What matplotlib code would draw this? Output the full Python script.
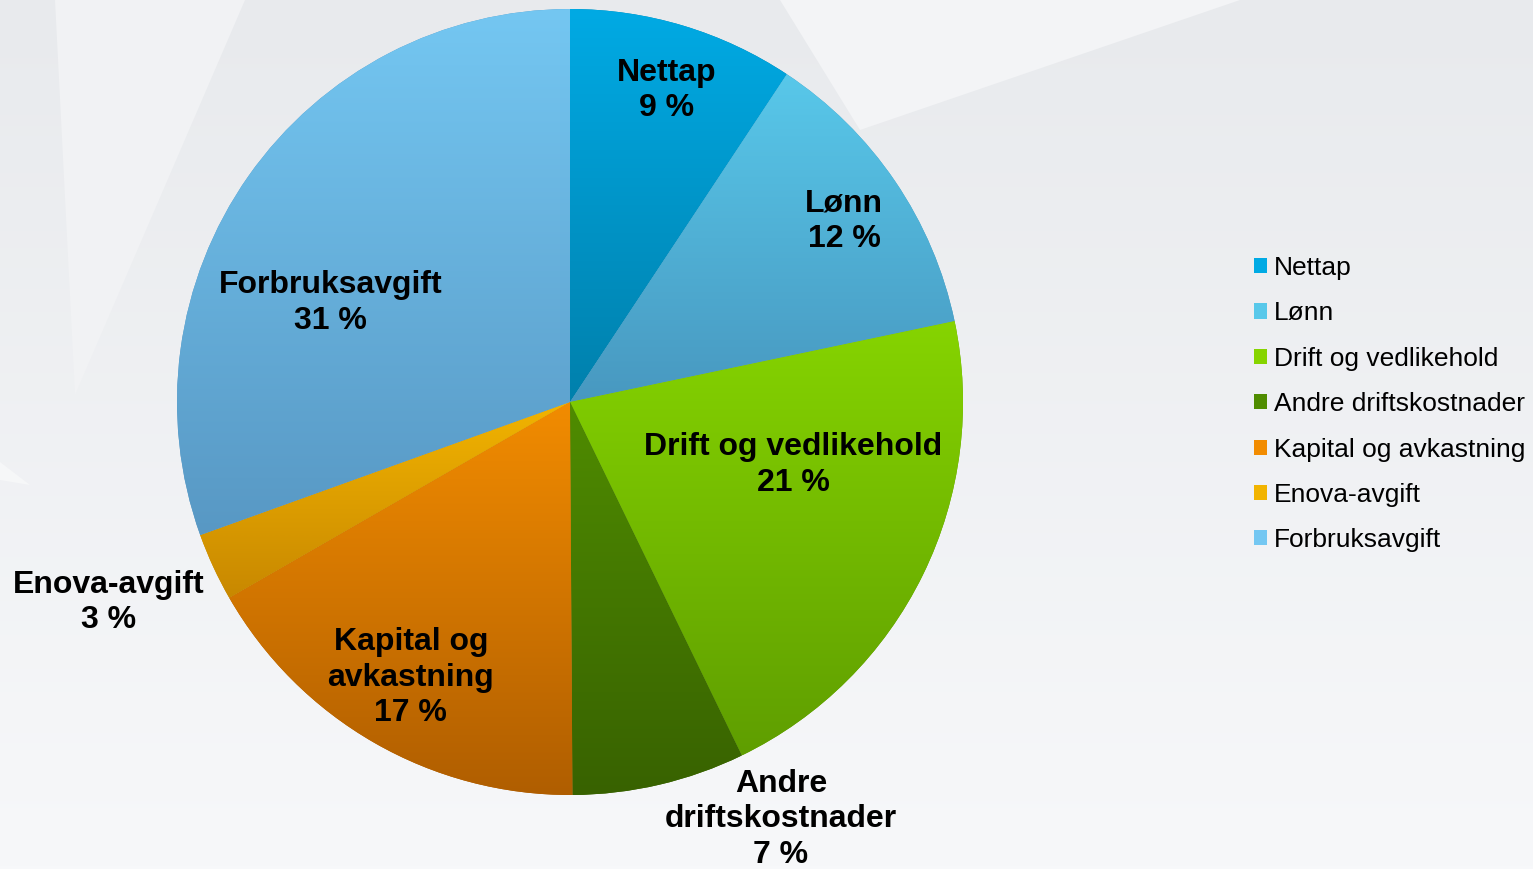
import math

import matplotlib

matplotlib.use("Agg")
import matplotlib.pyplot as plt
import numpy as np
from matplotlib.colors import LinearSegmentedColormap
from matplotlib.patches import Patch, Polygon

plt.rcParams["font.family"] = ["Liberation Sans", "DejaVu Sans"]

CATEGORIES = [
    "Nettap",
    "Lønn",
    "Drift og vedlikehold",
    "Andre driftskostnader",
    "Kapital og avkastning",
    "Enova-avgift",
    "Forbruksavgift",
]
SHARES = [9.3, 12.4, 21.1, 7.1, 16.8, 2.8, 30.5]
SLICE_LABELS = [
    "Nettap",
    "Lønn",
    "Drift og vedlikehold",
    "Andre\ndriftskostnader",
    "Kapital og\navkastning",
    "Enova-avgift",
    "Forbruksavgift",
]

# top / bottom gradient colours for each slice
TOP_COLORS = ["#00aae4", "#58c8ea", "#86d400", "#4f8c00", "#f28c00", "#f2b400", "#74c7f2"]
BOTTOM_COLORS = ["#0080ac", "#4898c0", "#5f9e00", "#386200", "#b05e00", "#c88800", "#5898c4"]
# label placement: (radius fraction, angle in degrees)
LABEL_POS = [(0.83, 72.7), (0.835, 33.4), (0.59, -15.7), (1.19, -63.2),
             (0.81, -120.0), (1.28, 203.5), (0.66, 157.5)]

W, H = 1533, 869
CX, CY, R = 570, H - 402, 393

fig = plt.figure(figsize=(W / 100, H / 100), dpi=100)
fig.patch.set_facecolor("#eceef0")
ax = fig.add_axes([0, 0, 1, 1])

# background: soft vertical gradient with faint lighter shapes
bg = LinearSegmentedColormap.from_list("bg", ["#e8eaed", "#f7f8fa"])
ax.imshow(np.linspace(0, 1, 256).reshape(-1, 1), cmap=bg, aspect="auto",
          extent=(0, W, 0, H), origin="upper", zorder=0)
for pts, col in [
    ([(55, H), (245, H), (75, H - 395)], "#f1f2f4"),
    ([(780, H), (1240, H), (860, H - 130)], "#f3f4f6"),
    ([(0, H - 462), (30, H - 485), (0, H - 480)], "#f6f7f8"),
]:
    ax.add_patch(Polygon(pts, closed=True, facecolor=col, edgecolor="none", zorder=0.5))

wedges, _ = ax.pie(
    SHARES,
    startangle=90,
    counterclock=False,
    center=(CX, CY),
    radius=R,
    colors=BOTTOM_COLORS,
    wedgeprops=dict(linewidth=0, edgecolor="none"),
    frame=True,
)

grad = np.linspace(0, 1, 256).reshape(-1, 1)
for w, top, bot in zip(wedges, TOP_COLORS, BOTTOM_COLORS):
    ext = w.get_path().get_extents()
    cmap = LinearSegmentedColormap.from_list("g", [top, bot])
    im = ax.imshow(grad, cmap=cmap, aspect="auto",
                   extent=(ext.x0, ext.x1, ext.y0, ext.y1),
                   origin="upper", zorder=2, interpolation="bilinear")
    im.set_clip_path(w)

for lab, share, (rf, ang) in zip(SLICE_LABELS, SHARES, LABEL_POS):
    x = CX + rf * R * math.cos(math.radians(ang))
    y = CY + rf * R * math.sin(math.radians(ang))
    pct = math.floor(share + 0.5)
    ax.text(x, y, f"{lab}\n{pct} %", ha="center", va="center",
            fontsize=23, fontweight="bold", color="black",
            linespacing=1.25, zorder=5)

ax.set_xlim(0, W)
ax.set_ylim(0, H)
ax.set_aspect("auto")
ax.axis("off")

handles = [Patch(facecolor=c, edgecolor="none") for c in TOP_COLORS]
fig.legend(handles, CATEGORIES, loc="upper left", bbox_to_anchor=(1254 / W, 1 - 256 / H),
           frameon=False, fontsize=19, handlelength=0.5, handleheight=0.5,
           handletextpad=0.25, labelspacing=0.81, borderpad=0, borderaxespad=0)

fig.savefig("out.png", dpi=100, facecolor=fig.get_facecolor())
